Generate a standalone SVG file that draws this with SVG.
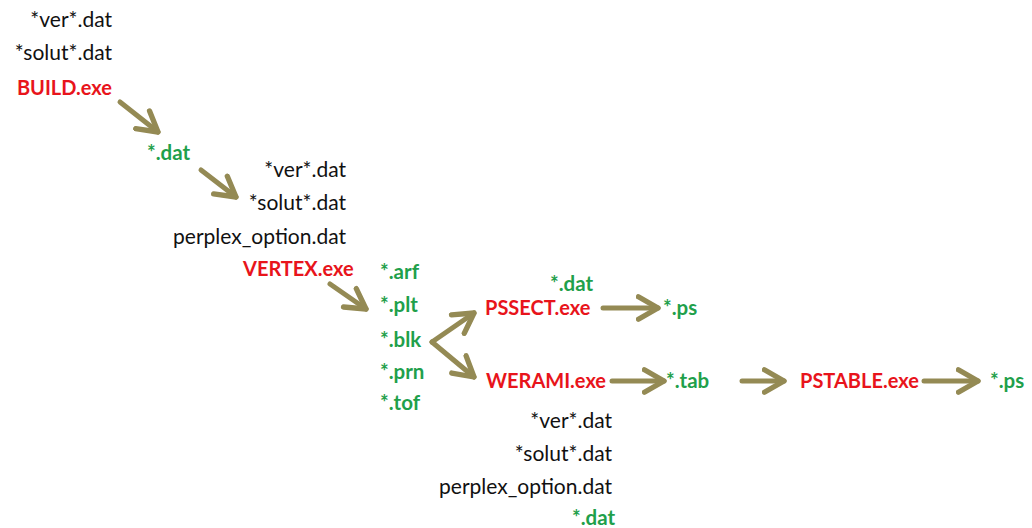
<svg xmlns="http://www.w3.org/2000/svg" width="1032" height="528" viewBox="0 0 1032 528">
<style>
text{font-family:Lato,"Liberation Sans",sans-serif;font-size:21px}
.k{fill:#111}
.r{fill:#e8141b;font-weight:bold;font-size:20px}
.g{fill:#1fa04b;font-weight:bold;font-size:20.5px}
.e{text-anchor:end}
.c line{stroke:#948a54;stroke-width:5;fill:none;stroke-linecap:round}
</style>
<defs>
<marker id="ah" viewBox="0 0 10 10" refX="8" refY="5" markerWidth="5.6" markerHeight="5.6" orient="auto" markerUnits="strokeWidth">
<path d="M1,1 L8,5 L1,9" fill="none" stroke="#948a54" stroke-width="1.9" stroke-linejoin="round" stroke-linecap="round"/>
</marker>
</defs>
<rect width="1032" height="528" fill="#fff"/>
<g id="build-inputs">
<text class="k e" x="112" y="27">*ver*.dat</text>
<text class="k e" x="112" y="60">*solut*.dat</text>
</g>
<g id="build"><text class="r e" x="112" y="95">BUILD.exe</text></g>
<g id="dat1"><text class="g" x="147" y="160">*.dat</text></g>
<g id="vertex-inputs">
<text class="k e" x="346" y="177">*ver*.dat</text>
<text class="k e" x="346" y="210">*solut*.dat</text>
<text class="k e" x="346" y="244">perplex_option.dat</text>
</g>
<g id="vertex"><text class="r" x="243" y="276">VERTEX.exe</text></g>
<g id="vertex-outputs">
<text class="g" x="380" y="279">*.arf</text>
<text class="g" x="380" y="312">*.plt</text>
<text class="g" x="380" y="347">*.blk</text>
<text class="g" x="380" y="379">*.prn</text>
<text class="g" x="380" y="410">*.tof</text>
</g>
<g id="pssect-input"><text class="g" x="550" y="291">*.dat</text></g>
<g id="pssect"><text class="r" x="485" y="315">PSSECT.exe</text></g>
<g id="ps1"><text class="g" x="663" y="315">*.ps</text></g>
<g id="werami"><text class="r" x="486" y="388">WERAMI.exe</text></g>
<g id="tab"><text class="g" x="666" y="388">*.tab</text></g>
<g id="pstable"><text class="r" x="800" y="388">PSTABLE.exe</text></g>
<g id="ps2"><text class="g" x="990" y="388">*.ps</text></g>
<g id="werami-inputs">
<text class="k e" x="612" y="428">*ver*.dat</text>
<text class="k e" x="612" y="461">*solut*.dat</text>
<text class="k e" x="612" y="494">perplex_option.dat</text>
<text class="g" x="572" y="525">*.dat</text>
</g>
<g class="c" id="connectors">
<line x1="120" y1="102" x2="158" y2="132" marker-end="url(#ah)"/>
<line x1="201" y1="170" x2="236" y2="197" marker-end="url(#ah)"/>
<line x1="330" y1="284" x2="366" y2="309" marker-end="url(#ah)"/>
<line x1="432" y1="342" x2="474" y2="313" marker-end="url(#ah)"/>
<line x1="432" y1="342" x2="474" y2="377" marker-end="url(#ah)"/>
<line x1="603" y1="308" x2="658" y2="308" marker-end="url(#ah)"/>
<line x1="612" y1="381" x2="664" y2="381" marker-end="url(#ah)"/>
<line x1="742" y1="381" x2="784" y2="381" marker-end="url(#ah)"/>
<line x1="924" y1="381" x2="978" y2="381" marker-end="url(#ah)"/>
</g>
</svg>
